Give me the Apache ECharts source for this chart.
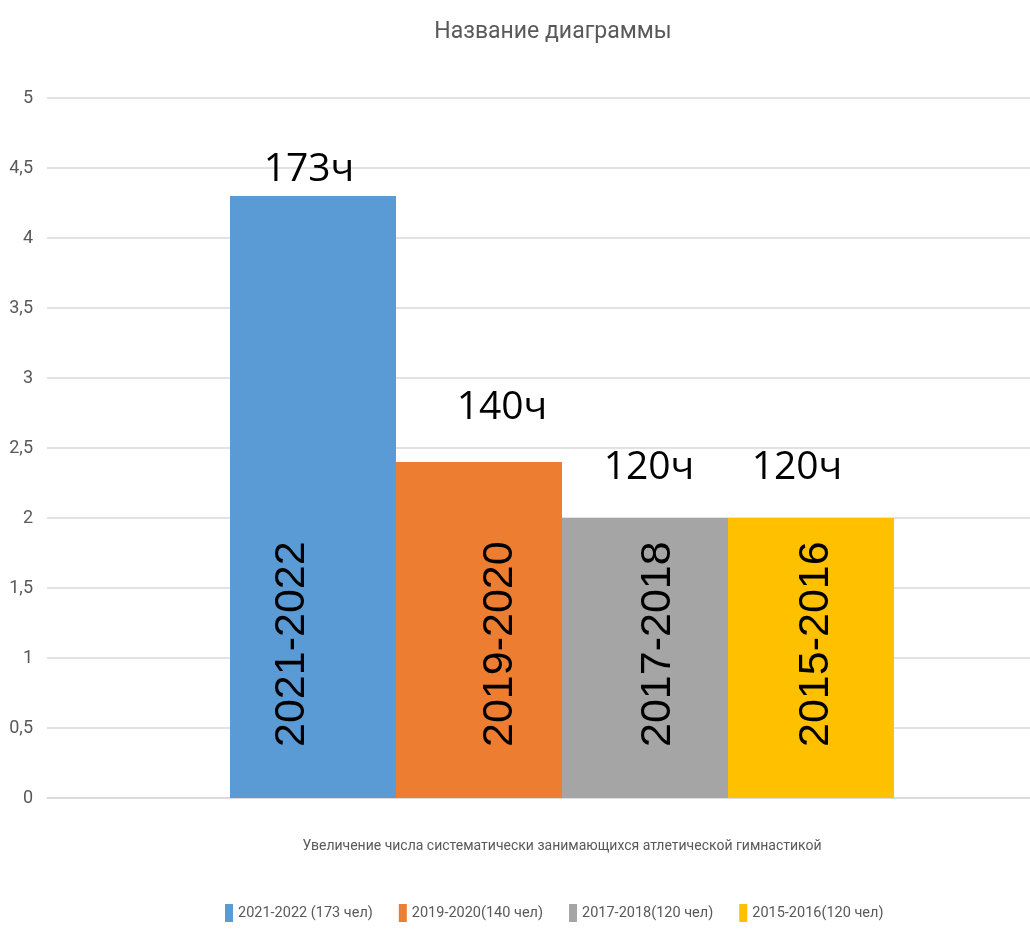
<!DOCTYPE html>
<html>
<head>
<meta charset="utf-8">
<title>Название диаграммы</title>
<script src="https://cdn.jsdelivr.net/npm/echarts@6/dist/echarts.min.js"></script>
<style>
html,body{margin:0;padding:0;background:#fff;overflow:hidden;}
#chart{width:1030px;height:930px;}
</style>
</head>
<body>
<div id="chart"></div>
<script>
// данные диаграммы
var categories = ['Увеличение числа систематически занимающихся атлетической гимнастикой'];
var seriesNames = ['2021-2022 (173 чел)', '2019-2020(140 чел)', '2017-2018(120 чел)', '2015-2016(120 чел)'];
var periods = ['2021-2022', '2019-2020', '2017-2018', '2015-2016'];
var values = [4.3, 2.4, 2, 2];
var topLabels = ['173ч', '140ч', '120ч', '120ч'];
var colors = ['#5B9BD5', '#ED7D31', '#A5A5A5', '#FFC000'];

// подписи сдвинуты вручную, как в исходной картинке
var topOffsets = [[-4, -26], [23, -54], [4, -50], [-14, -50]];
var insideShift = [-21, 21, 13, 5];

var narrow = 'Roboto, "Open Sans", sans-serif';

var myChart = echarts.init(document.getElementById('chart'));

var series = [];
for (var i = 0; i < seriesNames.length; i++) {
    series.push({
        name: seriesNames[i],
        type: 'bar',
        barWidth: 166,
        barGap: '0%',
        data: [values[i]],
        itemStyle: { color: colors[i] },
        label: {
            show: true,
            formatter: periods[i],
            position: 'insideBottom',
            rotate: 90,
            align: 'left',
            verticalAlign: 'middle',
            distance: 51,
            // смещение в повернутой системе: по y = по горизонтали экрана
            offset: [0, insideShift[i]],
            color: '#000',
            fontSize: 43,
            fontFamily: '"Liberation Sans", Arial, sans-serif'
        },
        markPoint: {
            symbol: 'rect',
            symbolSize: 1,
            itemStyle: { color: 'rgba(0,0,0,0)' },
            label: {
                show: true,
                formatter: topLabels[i],
                position: 'inside',
                offset: topOffsets[i],
                color: '#000',
                fontSize: 39,
                fontFamily: '"Open Sans", "Noto Sans", sans-serif'
            },
            data: [{ coord: [categories[0], values[i]] }]
        }
    });
}

var option = {
    animation: false,
    title: {
        text: 'Название диаграммы',
        left: 548,
        textAlign: 'center',
        top: 16,
        textStyle: {
            color: '#595959',
            fontSize: 23,
            fontWeight: 'normal',
            fontFamily: narrow
        }
    },
    legend: {
        data: seriesNames,
        bottom: 3,
        left: 220,
        icon: 'rect',
        itemWidth: 8,
        itemHeight: 18,
        itemGap: 26,
        textStyle: {
            color: '#595959',
            fontSize: 14.5,
            fontFamily: narrow
        }
    },
    grid: {
        left: 47,
        top: 98,
        right: -47,
        bottom: 132,
        outerBoundsMode: 'none'
    },
    xAxis: {
        type: 'category',
        data: categories,
        axisLine: { lineStyle: { color: '#D9D9D9', width: 1.5 } },
        axisTick: { show: false },
        axisLabel: {
            margin: 41,
            color: '#595959',
            fontSize: 14,
            fontFamily: narrow
        }
    },
    yAxis: {
        type: 'value',
        min: 0,
        max: 5,
        interval: 0.5,
        axisLine: { show: false },
        axisTick: { show: false },
        splitLine: { lineStyle: { color: '#D9D9D9', width: 1.5 } },
        axisLabel: {
            margin: 14,
            color: '#595959',
            fontSize: 18,
            fontFamily: narrow,
            formatter: function (v) {
                return String(v).replace('.', ',');
            }
        }
    },
    series: series
};

myChart.setOption(option);
</script>
</body>
</html>
